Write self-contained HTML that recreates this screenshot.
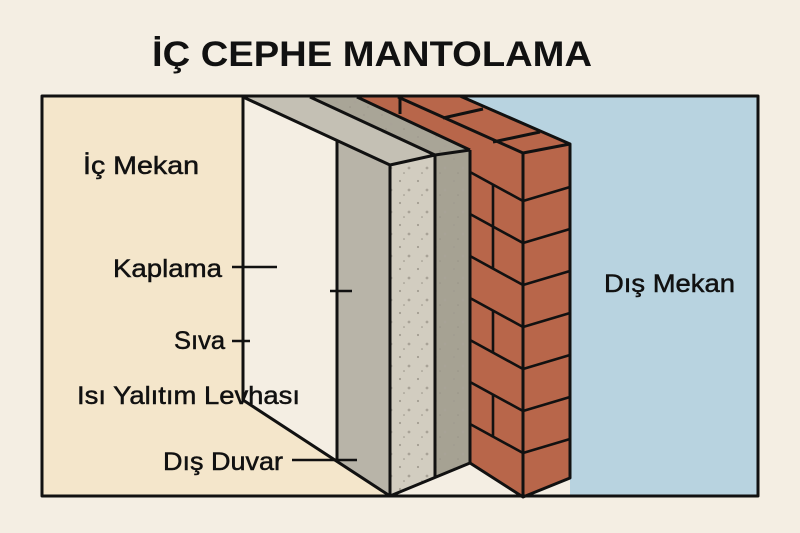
<!DOCTYPE html>
<html><head><meta charset="utf-8"><style>
html,body{margin:0;padding:0;background:#f4eee3;}
svg{display:block;}
text{font-family:"Liberation Sans",sans-serif;fill:#111;}
.l{stroke:#111;stroke-width:0.5;}
</style></head><body>
<svg width="800" height="533" viewBox="0 0 800 533" xmlns="http://www.w3.org/2000/svg">
<defs>
<pattern id="dots" width="18" height="22" patternUnits="userSpaceOnUse">
<circle cx="4" cy="5" r="1.1" fill="#a29d91"/><circle cx="13" cy="14" r="1.4" fill="#a8a397"/><circle cx="8" cy="19" r="0.8" fill="#979286"/>
</pattern>
</defs>
<rect width="800" height="533" fill="#f4eee3"/>
<text x="152" y="66" font-size="35" font-weight="bold" textLength="440" lengthAdjust="spacingAndGlyphs">İÇ CEPHE MANTOLAMA</text>
<polygon points="42,96 243,96 243,400 390,496 42,496" fill="#f4e6cb"/>
<polygon points="460,96 758,96 758,496 570,496 570,144" fill="#b8d3e0"/>
<polygon points="358,96 460,96 570,144 570,478 523,497 470,463 470,150" fill="#b8664a"/>
<polygon points="243,97 357,97 470,150 435,155 390,165" fill="#c4c0b4"/>
<polygon points="310,97 357,97 470,150 435,155" fill="#a9a597"/>
<polygon points="310,97 357,97 470,150 435,155" fill="url(#dots)"/>
<polygon points="337,141 390,165 390,496 337,461" fill="#b8b4a8"/>
<polygon points="390,165 435,155 435,477 390,496" fill="#d2cdc0"/>
<polygon points="390,165 435,155 435,477 390,496" fill="url(#dots)"/>
<polygon points="435,155 470,150 470,463 435,477" fill="#a6a293"/>
<polygon points="435,155 470,150 470,463 435,477" fill="url(#dots)"/>
<g stroke="#111" stroke-width="3" fill="none" stroke-linejoin="round">
<rect x="42" y="96" width="716" height="400"/>
<polyline points="243,96 243,400 390,496"/>
<line x1="243" y1="97" x2="390" y2="165"/>
<line x1="310" y1="97" x2="435" y2="155"/>
<line x1="357" y1="97" x2="470" y2="150"/>
<line x1="337" y1="141" x2="337" y2="461"/>
<polyline points="390,165 435,155 470,150"/>
<line x1="390" y1="165" x2="390" y2="496"/>
<line x1="435" y1="155" x2="435" y2="477"/>
<line x1="470" y1="150" x2="470" y2="463"/>
<polyline points="390,496 470,463 523,497 570,478 570,144 523,153 398,97"/>
<line x1="523" y1="153" x2="523" y2="497"/>
<line x1="443" y1="118" x2="483" y2="109"/>
<line x1="493" y1="142" x2="540" y2="132"/>
<line x1="400" y1="98" x2="400" y2="114"/>
<line x1="460" y1="96" x2="570" y2="144"/>
</g>
<g stroke="#111" stroke-width="2.6">
<line x1="523" y1="201" x2="570" y2="187"/><line x1="470" y1="172" x2="523" y2="201"/>
<line x1="523" y1="243" x2="570" y2="229"/><line x1="470" y1="214" x2="523" y2="243"/>
<line x1="523" y1="285" x2="570" y2="271"/><line x1="470" y1="256" x2="523" y2="285"/>
<line x1="523" y1="327" x2="570" y2="313"/><line x1="470" y1="298" x2="523" y2="327"/>
<line x1="523" y1="369" x2="570" y2="355"/><line x1="470" y1="340" x2="523" y2="369"/>
<line x1="523" y1="411" x2="570" y2="397"/><line x1="470" y1="382" x2="523" y2="411"/>
<line x1="523" y1="453" x2="570" y2="439"/><line x1="470" y1="424" x2="523" y2="453"/>
<line x1="493" y1="185" x2="493" y2="227"/>
<line x1="493" y1="227" x2="493" y2="269"/>
<line x1="493" y1="311" x2="493" y2="353"/>
<line x1="493" y1="395" x2="493" y2="437"/>
<line x1="232" y1="267" x2="277" y2="267"/>
<line x1="232" y1="341" x2="250" y2="341"/>
<line x1="292" y1="460" x2="357" y2="460"/>
<line x1="330" y1="291" x2="352" y2="291"/>
</g>
<text class="l" x="83" y="174" font-size="25" textLength="116" lengthAdjust="spacingAndGlyphs">İç Mekan</text>
<text class="l" x="113" y="277" font-size="25" textLength="109" lengthAdjust="spacingAndGlyphs">Kaplama</text>
<text class="l" x="174" y="349" font-size="25" textLength="51" lengthAdjust="spacingAndGlyphs">Sıva</text>
<text class="l" x="77" y="404" font-size="25" textLength="223" lengthAdjust="spacingAndGlyphs">Isı Yalıtım Levhası</text>
<text class="l" x="163" y="470" font-size="25" textLength="120" lengthAdjust="spacingAndGlyphs">Dış Duvar</text>
<text class="l" x="604" y="292" font-size="25" textLength="131" lengthAdjust="spacingAndGlyphs">Dış Mekan</text>
</svg>
</body></html>
